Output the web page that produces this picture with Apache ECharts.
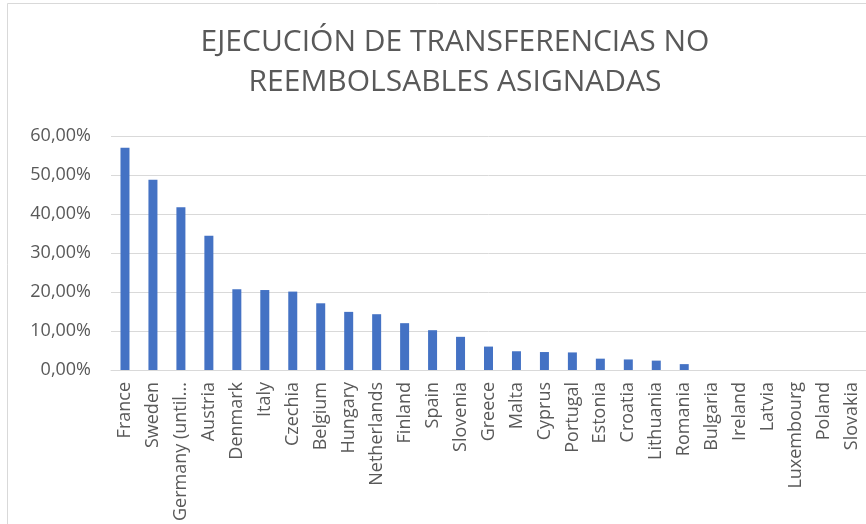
<!DOCTYPE html>
<html>
<head>
<meta charset="utf-8">
<script src="https://cdn.jsdelivr.net/npm/echarts@6/dist/echarts.min.js"></script>
<style>
html,body{margin:0;padding:0;background:#fff;}
#chart{width:866px;height:524px;}
</style>
</head>
<body>
<div id="chart"></div>
<script>
const titleText = 'EJECUCIÓN DE TRANSFERENCIAS NO\nREEMBOLSABLES ASIGNADAS';
const countries = ['France','Sweden','Germany (until 1990 former territory of the FRG)','Austria','Denmark','Italy','Czechia','Belgium','Hungary','Netherlands','Finland','Spain','Slovenia','Greece','Malta','Cyprus','Portugal','Estonia','Croatia','Lithuania','Romania','Bulgaria','Ireland','Latvia','Luxembourg','Poland','Slovakia'];
const execution = [0.570,0.488,0.417,0.344,0.207,0.205,0.201,0.171,0.149,0.143,0.120,0.102,0.085,0.060,0.048,0.046,0.045,0.029,0.027,0.024,0.015,0,0,0,0,0,0];
const yTicks = [0,0.1,0.2,0.3,0.4,0.5,0.6];

const chart = echarts.init(document.getElementById('chart'));
const font = '"Open Sans", "Noto Sans", sans-serif';
chart.setOption({
  animation:false,
  backgroundColor:'#fff',
  title:{
    text:titleText,
    left:450, top:17, textAlign:'center',
    textStyle:{fontFamily:font,fontSize:30,fontWeight:'normal',color:'#595959',lineHeight:40}
  },
  graphic:[{type:'rect',shape:{x:7.5,y:3.5,width:900,height:540},style:{fill:'none',stroke:'#D9D9D9',lineWidth:1},silent:true,z:-1}],
  grid:{left:111,right:-6,top:136,bottom:154,containLabel:false},
  xAxis:{
    type:'category',data:countries,
    axisLine:{lineStyle:{color:'#D9D9D9'}},
    axisTick:{show:false},
    axisLabel:{interval:0,rotate:90,margin:12,color:'#595959',fontFamily:font,fontSize:18,
      formatter:v=>v.length>20?v.slice(0,14)+'...':v}
  },
  yAxis:{
    type:'value',min:yTicks[0],max:yTicks[yTicks.length-1],interval:0.1,
    axisLine:{show:false},axisTick:{show:false},
    splitLine:{lineStyle:{color:'#D9D9D9',width:1}},
    axisLabel:{margin:20,color:'#595959',fontFamily:font,fontSize:18,
      formatter:v=>(v*100).toFixed(2).replace('.',',')+'%'}
  },
  series:[{type:'bar',data:execution,barWidth:9,itemStyle:{color:'#4472C4'}}]
});
</script>
</body>
</html>
